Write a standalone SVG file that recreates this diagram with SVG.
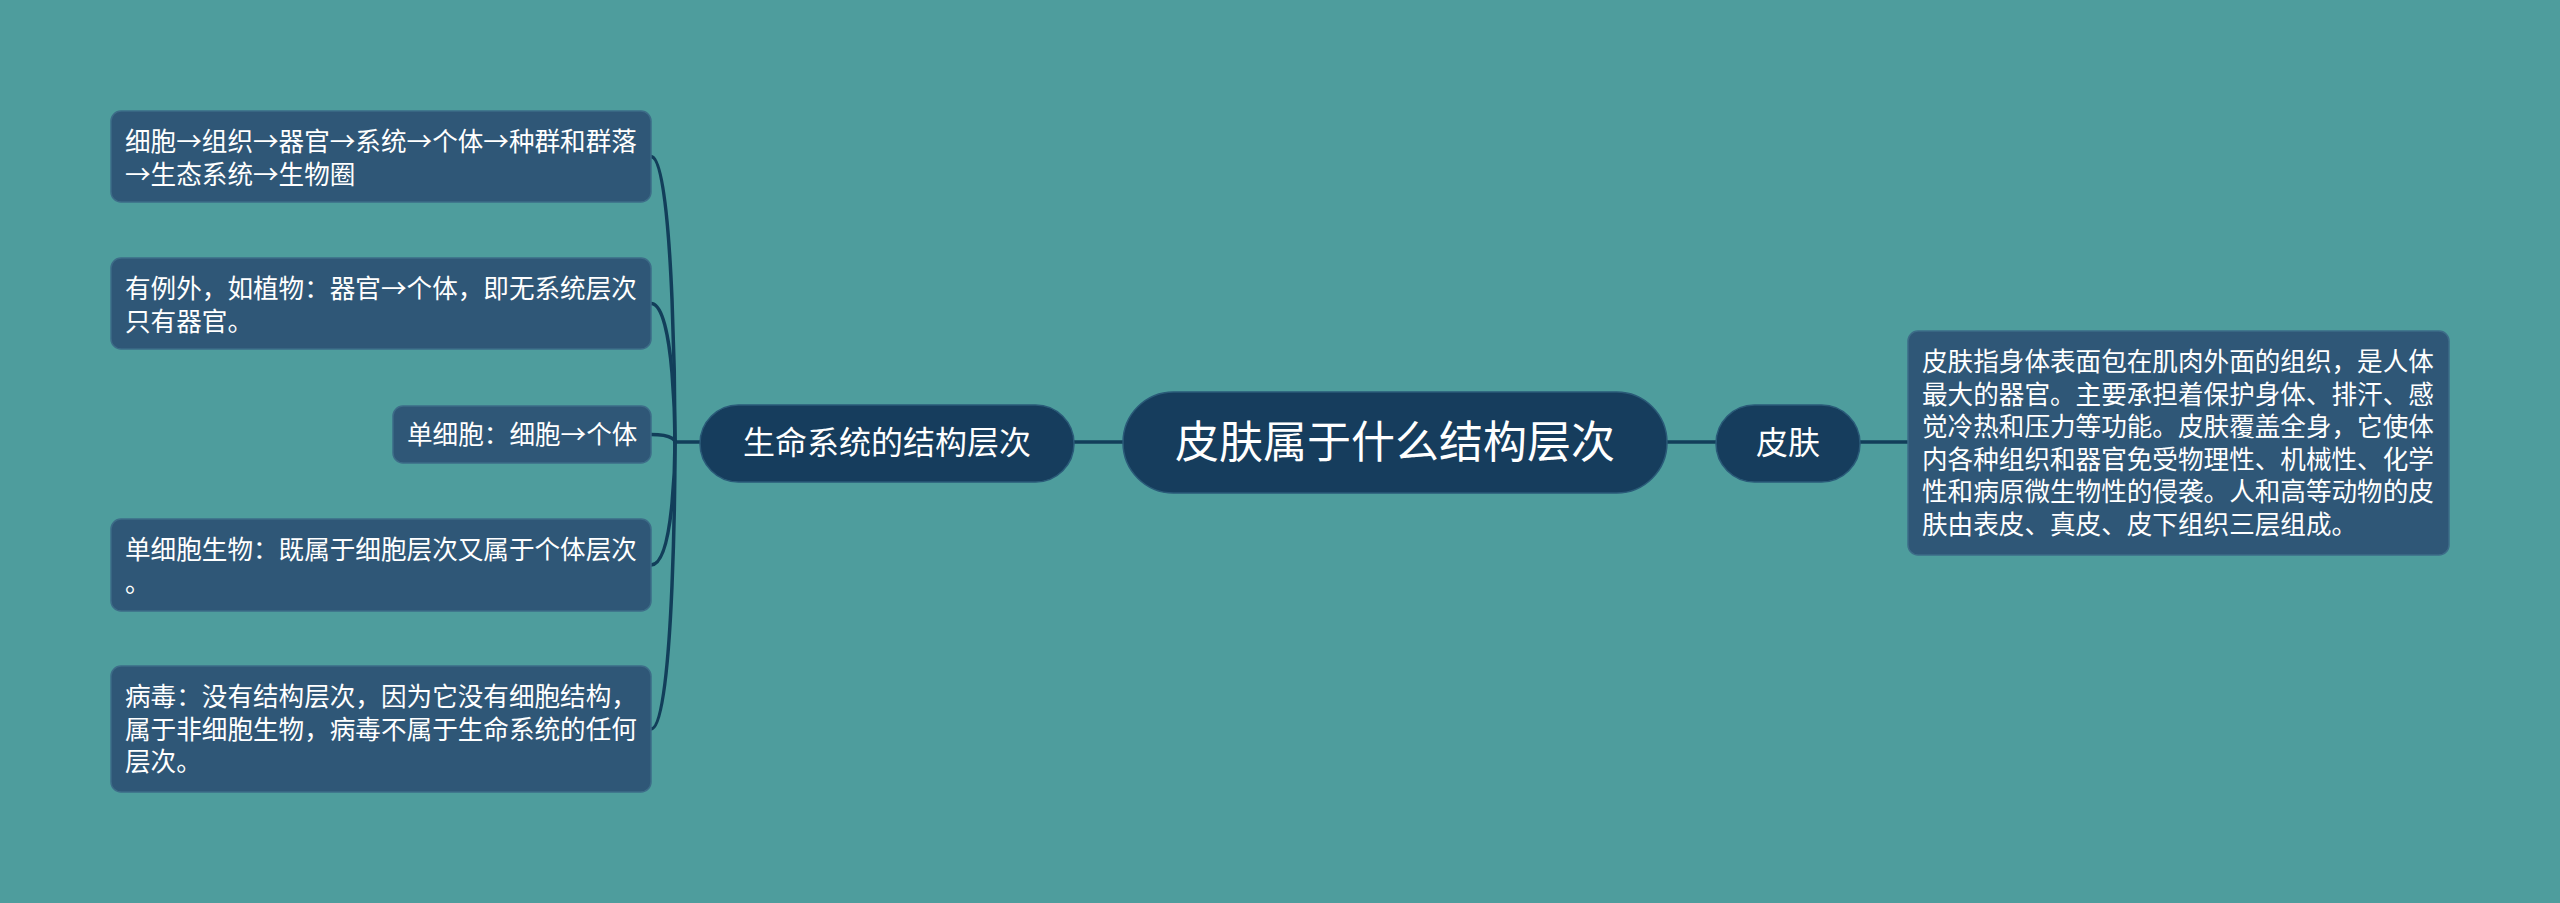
<svg xmlns="http://www.w3.org/2000/svg" width="2560" height="903" viewBox="0 0 2560 903">
<style>
.bg{fill:#4E9D9D}
.main{fill:#163D5D;stroke:#2A5A78;stroke-width:1.5}
.leaf{fill:#2F5777;stroke:#3D6C88;stroke-width:1.5}
.t{font-family:"Noto Sans CJK SC","Noto Sans",sans-serif;fill:#FFFFFF}
.lt{font-size:25.6px}
.conn{fill:none;stroke:#123E5A;stroke-width:3.5;stroke-linecap:round}
</style>
<rect class="bg" x="0" y="0" width="2560" height="903"/>
<g id="connectors">
<path class="conn" d="M1123 442 L1074 442"/>
<path class="conn" d="M700 442 L675 442"/>
<path class="conn" d="M1667 442 L1716 442"/>
<path class="conn" d="M1860 442 L1908 442"/>
<path class="conn" d="M651 156.5 C675 156.5 675 442 675 442"/>
<path class="conn" d="M651 303.5 C675 303.5 675 442 675 442"/>
<path class="conn" d="M651 434.5 C675 434.5 675 442 675 442"/>
<path class="conn" d="M651 565 C675 565 675 442 675 442"/>
<path class="conn" d="M651 729 C675 729 675 442 675 442"/>
</g>
<g id="root">
<rect class="main" x="1123" y="392" width="544" height="101" rx="50.5"/>
<text class="t" x="1395" y="458" font-size="44" text-anchor="middle">皮肤属于什么结构层次</text>
</g>
<g id="node-shengming">
<rect class="main" x="700" y="405" width="374" height="77" rx="38.5"/>
<text class="t" x="887" y="454" font-size="32" text-anchor="middle">生命系统的结构层次</text>
</g>
<g id="node-pifu">
<rect class="main" x="1716" y="405" width="144" height="77" rx="38.5"/>
<text class="t" x="1788" y="454" font-size="32" text-anchor="middle">皮肤</text>
</g>
<g id="leaf-1">
<rect class="leaf" x="111" y="111" width="540" height="91" rx="10"/>
<text class="t lt"><tspan x="125" y="151">细胞→组织→器官→系统→个体→种群和群落</tspan><tspan x="125" y="183.5">→生态系统→生物圈</tspan></text>
</g>
<g id="leaf-2">
<rect class="leaf" x="111" y="258" width="540" height="91" rx="10"/>
<text class="t lt"><tspan x="125" y="298">有例外，如植物：器官→个体，即无系统层次</tspan><tspan x="125" y="330.5">只有器官。</tspan></text>
</g>
<g id="leaf-3">
<rect class="leaf" x="393" y="406" width="258" height="57" rx="10"/>
<text class="t lt" x="407" y="444">单细胞：细胞→个体</text>
</g>
<g id="leaf-4">
<rect class="leaf" x="111" y="519" width="540" height="92" rx="10"/>
<text class="t lt"><tspan x="125" y="559">单细胞生物：既属于细胞层次又属于个体层次</tspan><tspan x="125" y="591.5">。</tspan></text>
</g>
<g id="leaf-5">
<rect class="leaf" x="111" y="666" width="540" height="126" rx="10"/>
<text class="t lt"><tspan x="125" y="706">病毒：没有结构层次，因为它没有细胞结构，</tspan><tspan x="125" y="738.5">属于非细胞生物，病毒不属于生命系统的任何</tspan><tspan x="125" y="771">层次。</tspan></text>
</g>
<g id="leaf-pifu-desc">
<rect class="leaf" x="1908" y="331" width="541" height="224" rx="10"/>
<text class="t lt"><tspan x="1922" y="371">皮肤指身体表面包在肌肉外面的组织，是人体</tspan><tspan x="1922" y="403.5">最大的器官。主要承担着保护身体、排汗、感</tspan><tspan x="1922" y="436">觉冷热和压力等功能。皮肤覆盖全身，它使体</tspan><tspan x="1922" y="468.5">内各种组织和器官免受物理性、机械性、化学</tspan><tspan x="1922" y="501">性和病原微生物性的侵袭。人和高等动物的皮</tspan><tspan x="1922" y="533.5">肤由表皮、真皮、皮下组织三层组成。</tspan></text>
</g>
</svg>
